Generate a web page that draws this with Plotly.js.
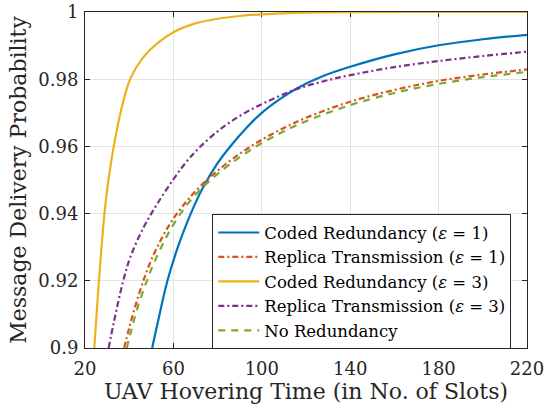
<!DOCTYPE html>
<html>
<head>
<meta charset="utf-8">
<script src="https://cdn.plot.ly/plotly-3.0.1.min.js"></script>
<style>html,body{margin:0;padding:0;background:#fff;}#chart{width:544px;height:408px;}</style>
</head>
<body>
<div id="chart"></div>
<script>
// Coded Redundancy (eps = 1)
var codedE1X = [50.4, 53, 57.3, 62, 66, 70, 74, 80, 86, 93, 100, 108, 116, 128, 140, 160, 180, 200, 220];
var codedE1Y = [0.9000, 0.9078, 0.9200, 0.9300, 0.9370, 0.9432, 0.9485, 0.9550, 0.9602, 0.9655, 0.9700, 0.9740, 0.9773, 0.9810, 0.9837, 0.9874, 0.9901, 0.9919, 0.9932];
// Replica Transmission (eps = 1)
var replicaE1X = [37.7, 40, 43, 46.4, 50, 55, 60, 66, 72, 80, 90, 100, 110, 120, 140, 160, 180, 200, 220];
var replicaE1Y = [0.9000, 0.9060, 0.9130, 0.9200, 0.9262, 0.9330, 0.9385, 0.9437, 0.9480, 0.9528, 0.9578, 0.9620, 0.9655, 0.9685, 0.9733, 0.9768, 0.9795, 0.9814, 0.9829];
// Coded Redundancy (eps = 3)
var codedE3X = [24.2, 25.2, 26.3, 27.5, 28.8, 30.6, 33, 36, 40.4, 46, 53, 60, 70, 80, 90, 100, 120, 140, 180, 220];
var codedE3Y = [0.9000, 0.9095, 0.9200, 0.9302, 0.9400, 0.9500, 0.9600, 0.9698, 0.9800, 0.9862, 0.9908, 0.9940, 0.9966, 0.9980, 0.9988, 0.9993, 0.9998, 0.99995, 1.0, 1.0];
// Replica Transmission (eps = 3)
var replicaE3X = [30.7, 33, 37.1, 40.6, 46.6, 52.6, 60, 66, 72, 82, 93, 105, 116, 128, 140, 160, 180, 200, 220];
var replicaE3Y = [0.9000, 0.9075, 0.9195, 0.9272, 0.9360, 0.9428, 0.9502, 0.9555, 0.9598, 0.9655, 0.9702, 0.9741, 0.9771, 0.9794, 0.9812, 0.9836, 0.9854, 0.9869, 0.9882];
// No Redundancy
var noRedX = [38.9, 41, 44, 48, 51, 56, 60, 66, 72, 80, 90, 100, 110, 120, 140, 160, 180, 200, 220];
var noRedY = [0.9000, 0.9055, 0.9125, 0.9200, 0.9250, 0.9320, 0.9367, 0.9425, 0.9470, 0.9518, 0.9568, 0.9610, 0.9645, 0.9675, 0.9723, 0.9759, 0.9786, 0.9806, 0.9822];

var seriesNames = ['Coded Redundancy (<i>ε</i> = 1)', 'Replica Transmission (<i>ε</i> = 1)', 'Coded Redundancy (<i>ε</i> = 3)', 'Replica Transmission (<i>ε</i> = 3)', 'No Redundancy'];
var xTicks = [20, 60, 100, 140, 180, 220];
var yTicks = [0.9, 0.92, 0.94, 0.96, 0.98, 1];
var yTickText = ['0.9', '0.92', '0.94', '0.96', '0.98', '1'];

var FONT = 'DejaVu Serif';
function tr(x, y, name, color, dash) {
  return {x: x, y: y, name: name, type: 'scatter', mode: 'lines',
    line: {color: color, width: 2.2, dash: dash, shape: 'spline', smoothing: 1}};
}
var data = [
  tr(codedE1X, codedE1Y, seriesNames[0], '#0072BD', 'solid'),
  tr(replicaE1X, replicaE1Y, seriesNames[1], '#D95319', '6px,3px,2px,3px'),
  tr(codedE3X, codedE3Y, seriesNames[2], '#EDB120', 'solid'),
  tr(replicaE3X, replicaE3Y, seriesNames[3], '#7E2F8E', '6px,3px,2px,3px'),
  tr(noRedX, noRedY, seriesNames[4], '#77AC30', '7px,6px')
];
var axisCommon = {
  showline: true, linecolor: '#262626', linewidth: 1, mirror: 'ticks',
  ticks: 'inside', ticklen: 5, tickcolor: '#262626', tickwidth: 1,
  showgrid: true, gridcolor: '#e3e3e3', gridwidth: 1, zeroline: false,
  tickfont: {family: FONT, size: 18, color: '#262626'}, layer: 'below traces',
  ticklabeloverflow: 'allow'
};
var layout = {
  width: 544, height: 408,
  margin: {l: 85, r: 17, t: 12, b: 60},
  paper_bgcolor: '#fff', plot_bgcolor: '#fff',
  showlegend: true,
  font: {family: FONT},
  xaxis: Object.assign({}, axisCommon, {
    range: [20, 220], tickmode: 'array', tickvals: xTicks, ticklabelstandoff: 4,
    title: {text: 'UAV Hovering Time (in No. of Slots)', font: {family: FONT, size: 22, color: '#262626'}, standoff: 6}
  }),
  yaxis: Object.assign({}, axisCommon, {
    range: [0.9, 1], tickmode: 'array', tickvals: yTicks, ticktext: yTickText, ticklabelstandoff: 2,
    title: {text: 'Message Delivery Probability', font: {family: FONT, size: 22, color: '#262626'}, standoff: 5}
  }),
  legend: {
    x: 0.288, y: 0.398, xanchor: 'left', yanchor: 'top',
    bgcolor: '#fff', bordercolor: '#262626', borderwidth: 1,
    font: {family: FONT, size: 16.5, color: '#000'},
    itemwidth: 41, tracegroupgap: 0
  }
};
Plotly.newPlot('chart', data, layout, {displayModeBar: false, staticPlot: true});
</script>
</body>
</html>
